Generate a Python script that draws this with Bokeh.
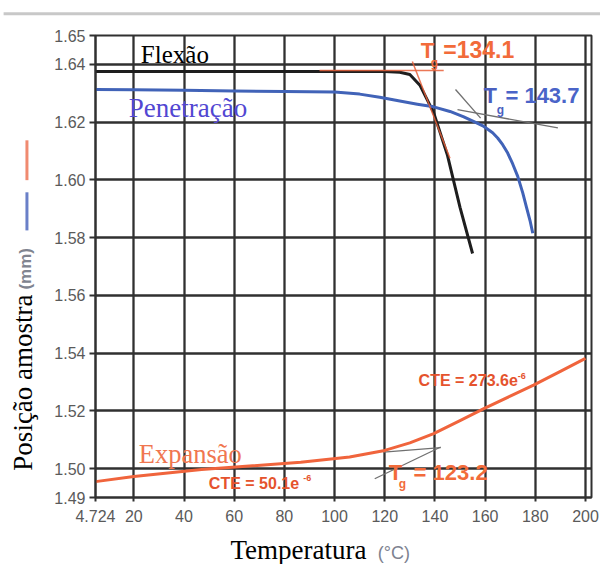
import math
from bokeh.plotting import figure
from bokeh.models import Label, FixedTicker, Range1d
from bokeh.core.properties import value
from bokeh.embed import file_html
from bokeh.resources import INLINE

# ---- axis ticks ----
x_ticks = [4.724, 20, 40, 60, 80, 100, 120, 140, 160, 180, 200]
x_tick_labels = ["4.724", "20", "40", "60", "80", "100", "120", "140", "160", "180", "200"]
y_ticks = [1.49, 1.50, 1.52, 1.54, 1.56, 1.58, 1.60, 1.62, 1.64, 1.65]
y_tick_labels = ["1.49", "1.50", "1.52", "1.54", "1.56", "1.58", "1.60", "1.62", "1.64", "1.65"]

# ---- series ----
flexao_temp = [4.724, 20, 40, 60, 80, 100, 120, 126, 130, 134, 139.5, 145, 150, 155]
flexao_pos = [1.6375, 1.6375, 1.6375, 1.6375, 1.6375, 1.6375, 1.6375, 1.6373, 1.6365,
              1.6328, 1.6233, 1.6085, 1.5905, 1.5745]

penet_temp = [4.724, 20, 40, 60, 80, 100, 110, 118, 126, 133, 139.5, 146, 151.5, 156,
              159.5, 163, 165, 167, 169, 171, 173, 175, 176.5, 178, 179]
penet_pos = [1.6313, 1.6312, 1.6310, 1.6308, 1.6306, 1.6304, 1.6297, 1.6286, 1.6273,
             1.6262, 1.6253, 1.6237, 1.6218, 1.6200, 1.6185, 1.6163, 1.6145, 1.6122,
             1.6093, 1.6055, 1.6012, 1.5955, 1.5905, 1.5855, 1.5815]

expan_temp = [4.724, 20, 47, 86.5, 106, 120, 130, 139.5, 150, 159.5, 170, 179.3, 190, 200]
expan_pos = [1.4955, 1.4973, 1.4997, 1.5022, 1.5040, 1.5063, 1.5089, 1.5121, 1.5166,
             1.5208, 1.5251, 1.5289, 1.5337, 1.5382]

# tangent construction lines (x0, y0, x1, y1)
orange_tan_x0 = [94.0, 131.0]
orange_tan_y0 = [1.6379, 1.6410]
orange_tan_x1 = [143.5, 146.0]
orange_tan_y1 = [1.6379, 1.6075]

gray_tan_x0 = [148.2, 149.0, 116.0, 119.6]
gray_tan_y0 = [1.6313, 1.6243, 1.4965, 1.5057]
gray_tan_x1 = [158.2, 189.0, 142.3, 142.3]
gray_tan_y1 = [1.6214, 1.6180, 1.5075, 1.5073]

BLACK = "#1e1e1e"
BLUE = "#4163b8"
ORANGE = "#f0643c"
GRID = "#303030"

X0, X1, Y0, Y1 = 4.724, 202.4, 1.49, 1.65
W, H = 600, 564
ML, MR, MT, MB = 95, 9, 35, 67

p = figure(width=W, height=H, output_backend="svg", toolbar_location=None,
           x_range=Range1d(X0, X1), y_range=Range1d(Y0, Y1),
           min_border_left=ML, min_border_right=MR, min_border_top=MT, min_border_bottom=MB,
           background_fill_color="white", border_fill_color="white")

# data units per screen pixel (for nudging text anchors only)
PX_X = (X1 - X0) / (W - ML - MR)
PX_Y = (Y1 - Y0) / (H - MT - MB)

p.outline_line_color = GRID
p.outline_line_width = 2

for ax in (p.xaxis[0], p.yaxis[0]):
    ax.axis_line_color = GRID
    ax.axis_line_width = 2
    ax.major_tick_line_color = GRID
    ax.major_tick_line_width = 2
    ax.minor_tick_line_color = None
    ax.major_tick_in = 0
    ax.major_label_text_font = "Liberation Sans"
    ax.major_label_text_font_size = "16px"
    ax.major_label_text_color = "#5a5a5a"

p.xaxis[0].ticker = FixedTicker(ticks=x_ticks)
p.xaxis[0].major_label_overrides = dict(zip(x_ticks, x_tick_labels))
p.xaxis[0].major_tick_out = 4
p.xaxis[0].major_label_standoff = 8
p.yaxis[0].ticker = FixedTicker(ticks=y_ticks)
p.yaxis[0].major_label_overrides = dict(zip(y_ticks, y_tick_labels))
p.yaxis[0].major_tick_out = 6
p.yaxis[0].major_label_standoff = 4

for g in (p.xgrid[0], p.ygrid[0]):
    g.grid_line_color = GRID
    g.grid_line_width = 2.3

# construction lines
p.segment(gray_tan_x0, gray_tan_y0, gray_tan_x1, gray_tan_y1, line_color="#707070", line_width=1.3)

# curves
p.line(flexao_temp, flexao_pos, line_color=BLACK, line_width=3, line_join="round")
p.line(penet_temp, penet_pos, line_color=BLUE, line_width=3, line_join="round")
p.line(expan_temp, expan_pos, line_color=ORANGE, line_width=3, line_join="round")

p.segment(orange_tan_x0, orange_tan_y0, orange_tan_x1, orange_tan_y1, line_color="#e8603a",
          line_width=1.5, line_alpha=0.85)

SERIF = "Liberation Serif"
SANS = "Liberation Sans"
MID = 0.34  # em distance from alphabetic baseline to the em-box middle


def lab(x, y, text, color, font, size, style="normal"):
    """x = left edge, y = text baseline (data units)."""
    ym = y + MID * size * PX_Y
    p.add_layout(Label(x=x, y=ym, text=text, text_color=color, text_font=font,
                       text_font_size=f"{size}px", text_font_style=style,
                       text_align="left", text_baseline="middle"))


def outside_text(x, y, text, color, font, size, style="normal", rotated=False):
    # glyph drawn at overlay level so that it is not clipped to the frame
    if rotated:
        x = x - MID * size * PX_X
        angle = math.pi / 2
    else:
        y = y + MID * size * PX_Y
        angle = 0.0
    p.text(x=[x], y=[y], text=[text], text_color=color, text_font=value(font),
           text_font_size=f"{size}px", text_font_style=style, angle=angle,
           text_align="left", text_baseline="middle", level="overlay")


# series names
lab(22.8, 1.6405, "Flexão", "black", SERIF, 25)
lab(18.0, 1.6217, "Penetração", "#5247d2", SERIF, 27)
lab(22.0, 1.5021, "Expansão", "#f07650", SERIF, 26.5)

# Tg labels
lab(134.3, 1.6422, "T", "#f26b3a", SANS, 22, "bold")
lab(138.3, 1.6392, "g", "#f26b3a", SANS, 12, "bold")
lab(143.3, 1.6422, "=134.1", "#f26b3a", SANS, 23, "bold")

lab(159.4, 1.6266, "T", "#4a5fbf", SANS, 22, "bold")
lab(164.6, 1.6228, "g", "#4a5fbf", SANS, 12, "bold")
lab(168.1, 1.6266, "= 143.7", "#4a64c8", SANS, 22, "bold")

lab(121.6, 1.4959, "T", "#f26b3a", SANS, 22, "bold")
lab(125.6, 1.4932, "g", "#f26b3a", SANS, 12, "bold")
lab(131.5, 1.4959, "= 123.2", "#f26b3a", SANS, 22, "bold")

# CTE labels
lab(49.9, 1.4931, "CTE = 50.1e", "#e5532d", SANS, 16, "bold")
lab(87.5, 1.4957, "-6", "#e5532d", SANS, 9, "bold")
lab(133.5, 1.5285, "CTE = 273.6e", "#e5532d", SANS, 16, "bold")
lab(173.0, 1.5311, "-6", "#e5532d", SANS, 9, "bold")

# axis titles (outside the frame)
outside_text(58.5, 1.4688, "Temperatura", "black", SERIF, 27)
outside_text(117.2, 1.4688, "(°C)", "#7d8290", SANS, 18)
outside_text(-20.6, 1.4993, "Posição amostra", "black", SERIF, 27, rotated=True)
outside_text(-21.0, 1.5620, "(mm)", "#80848f", SANS, 17, "bold", rotated=True)

# little colored markers at the left and faint rule at the top
mark_x0 = [-22.6, -22.6, -31.9]
mark_y0 = [1.6137, 1.5957, 1.6575]
mark_x1 = [-22.6, -22.6, 207.3]
mark_y1 = [1.5999, 1.5825, 1.6575]
p.segment(mark_x0, mark_y0, mark_x1, mark_y1,
          line_color=["#f08a70", "#6a80c8", "#c8c8c8"], line_width=3, level="overlay")

open("out.html", "w").write(file_html(p, INLINE))
